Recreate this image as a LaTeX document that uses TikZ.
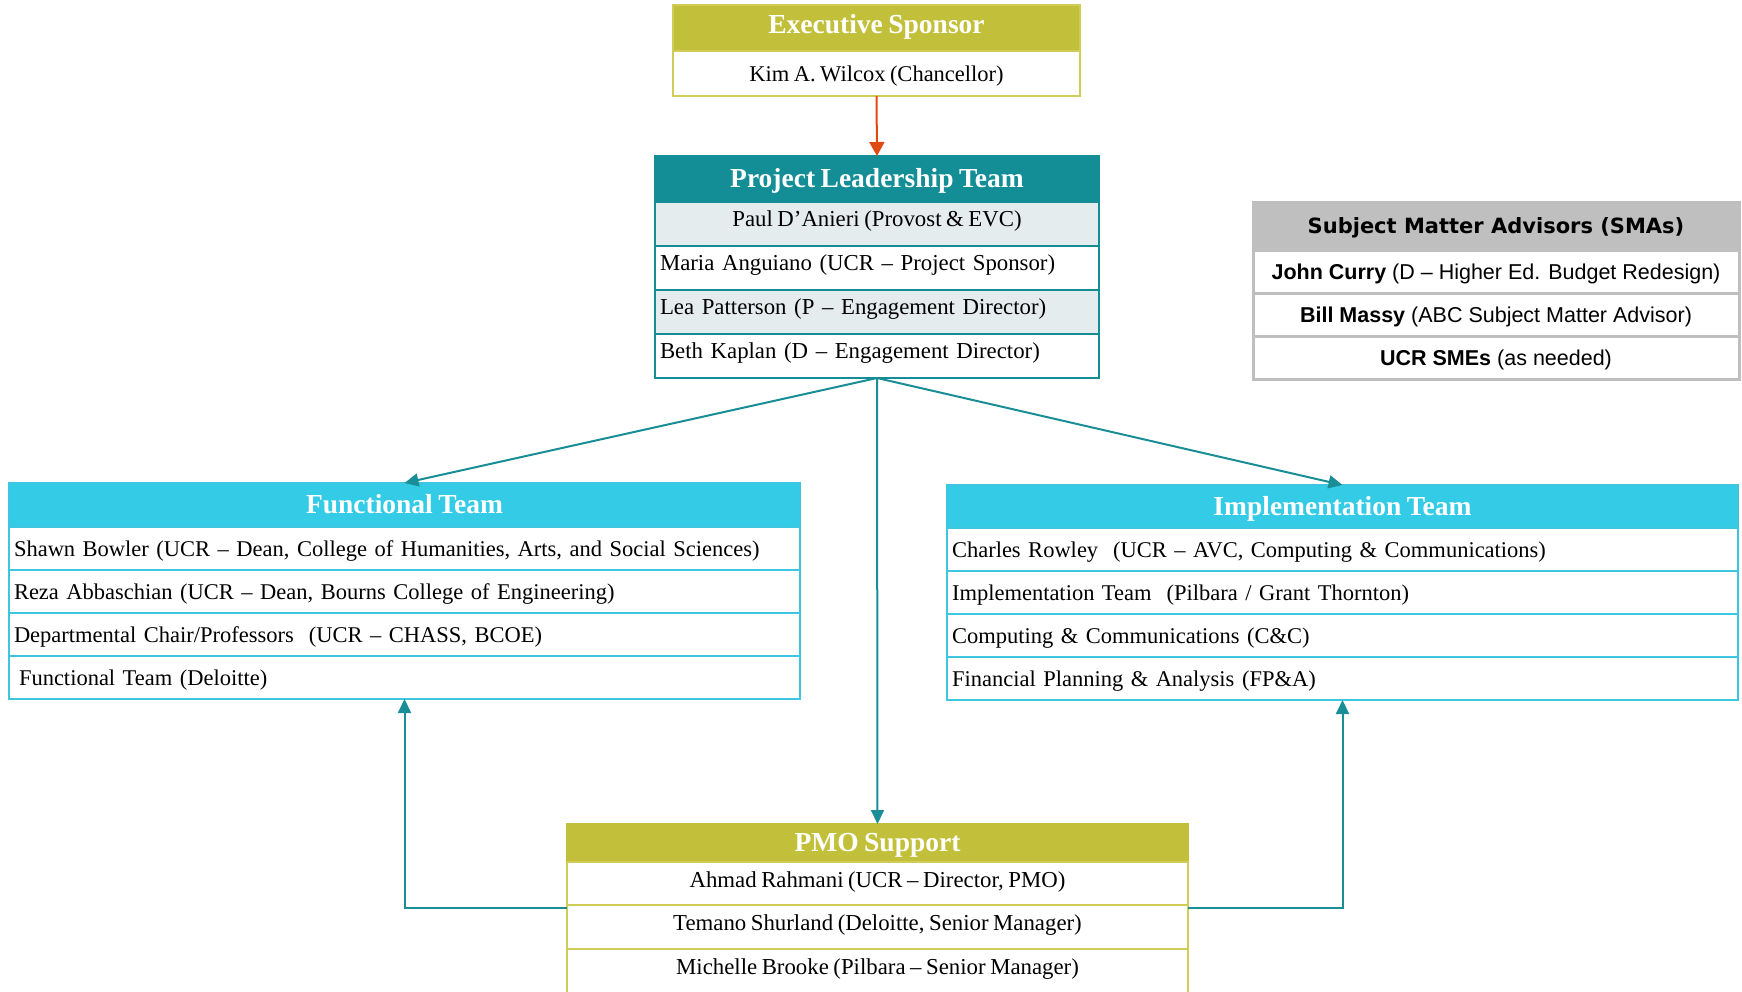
\documentclass[tikz,border=0pt]{standalone}
\usepackage{fontspec}
\setmainfont[WordSpace=0.8]{Liberation Serif}
\newfontfamily\armfam{Liberation Sans}
\newfontfamily\dvfam{DejaVu Sans}
\usetikzlibrary{arrows.meta}
\definecolor{olv}{HTML}{C2C03A}
\definecolor{olvb}{HTML}{CFCD55}
\definecolor{tl}{HTML}{138D96}
\definecolor{lt}{HTML}{E5ECEE}
\definecolor{cy}{HTML}{33CBE6}
\definecolor{cyb}{HTML}{3CC6E0}
\definecolor{gr}{HTML}{BFBFBF}
\definecolor{ao}{HTML}{E04A12}
\definecolor{at}{HTML}{1A8E97}
\newcommand\xhdr{\fontsize{27.5}{30}\selectfont\bfseries}
\newcommand\xrow{\fontsize{22.8}{26}\selectfont}
\newcommand\xrowb{\fontsize{22.5}{26}\selectfont}
\newcommand\xsma{\armfam\fontsize{21.5}{25}\selectfont}
\newcommand\xsmah{\dvfam\fontsize{21}{25}\selectfont\bfseries}
\begin{document}
\begin{tikzpicture}[x=1pt,y=-1pt,
  box/.style={rectangle, draw, anchor=north west, inner xsep=0pt, inner ysep=0pt, outer sep=0pt, line width=2.5pt},
  hdr/.style={box, font=\xhdr, text=white, text height=20.9pt, text depth=3.1pt},
  rc/.style={box, fill=white, font=\xrowb, text height=19.6pt, text depth=4.4pt},
  ru/.style={box, fill=white, font=\xrow, text height=14.6pt, text depth=9.4pt},
  rp/.style={box, fill=white, font=\xrow, text height=15.6pt, text depth=8.4pt},
  lft/.style={align=left, inner xsep=5pt, text width=#1},
  sr/.style={box, fill=white, draw=gr, line width=3pt, font=\xsma, text height=19.7pt, text depth=4.3pt, minimum width=486pt, minimum height=43pt},
  arrO/.style={draw=ao, line width=2pt, -{Triangle[length=14pt,width=15pt]}},
  arrT/.style={draw=at, line width=2pt, -{Triangle[length=14pt,width=13pt]}}
]
\useasboundingbox (0,0) rectangle (1742,991);

% Executive Sponsor
\node[hdr, draw=olvb, fill=olv, minimum width=407pt, minimum height=46pt, text height=17.9pt, text depth=6.1pt] (exh) at (673,5) {Executive Sponsor};
\node[rc, draw=olvb, minimum width=407pt, minimum height=45pt] (exr) at (673,51) {Kim A. Wilcox (Chancellor)};

% Project Leadership Team
\node[hdr, draw=tl, fill=tl, minimum width=444pt, minimum height=46pt] (plh) at (655,156) {Project Leadership Team};
\node[ru, draw=tl, fill=lt, minimum width=444pt, minimum height=44pt] (pl1) at (655,202) {Paul D’Anieri (Provost \& EVC)};
\node[ru, draw=tl, lft=434pt, minimum width=444pt, minimum height=44pt] (pl2) at (655,246) {Maria Anguiano (UCR – Project Sponsor)};
\node[ru, draw=tl, fill=lt, lft=434pt, minimum width=444pt, minimum height=44pt] (pl3) at (655,290) {Lea Patterson (P – Engagement Director)};
\node[ru, draw=tl, lft=434pt, minimum width=444pt, minimum height=44pt] (pl4) at (655,334) {Beth Kaplan (D – Engagement Director)};

% Subject Matter Advisors
\node[box, draw=gr, fill=gr, line width=3pt, font=\xsmah, minimum width=486pt, minimum height=48pt, text height=19.5pt, text depth=4.5pt] (smh) at (1253,202) {Subject Matter Advisors (SMAs)};
\node[sr] (sm1) at (1253,250) {\textbf{John Curry} (D – Higher Ed. Budget Redesign)};
\node[sr] (sm2) at (1253,293) {\textbf{Bill Massy} (ABC Subject Matter Advisor)};
\node[sr] (sm3) at (1253,336) {\textbf{UCR SMEs} (as needed)};

% Functional Team
\node[hdr, draw=cyb, fill=cy, minimum width=791pt, minimum height=44pt] (fth) at (9,483) {Functional Team};
\node[rc, draw=cyb, lft=781pt, minimum width=791pt, minimum height=43pt] (ft1) at (9,527) {Shawn Bowler (UCR – Dean, College of Humanities, Arts, and Social Sciences)};
\node[rc, draw=cyb, lft=781pt, minimum width=791pt, minimum height=43pt] (ft2) at (9,570) {Reza Abbaschian (UCR – Dean, Bourns College of Engineering)};
\node[rc, draw=cyb, lft=781pt, minimum width=791pt, minimum height=43pt] (ft3) at (9,613) {Departmental Chair/Professors\ \ (UCR – CHASS, BCOE)};
\node[rc, draw=cyb, lft=781pt, minimum width=791pt, minimum height=43pt] (ft4) at (9,656) {\hspace*{5pt}Functional Team (Deloitte)};

% Implementation Team
\node[hdr, draw=cyb, fill=cy, minimum width=791pt, minimum height=43pt] (ith) at (947,485) {Implementation Team};
\node[rc, draw=cyb, lft=781pt, minimum width=791pt, minimum height=43pt] (it1) at (947,528) {Charles Rowley\ \ (UCR – AVC, Computing \& Communications)};
\node[rc, draw=cyb, lft=781pt, minimum width=791pt, minimum height=43pt] (it2) at (947,571) {Implementation Team\ \ (Pilbara / Grant Thornton)};
\node[rc, draw=cyb, lft=781pt, minimum width=791pt, minimum height=43pt] (it3) at (947,614) {Computing \& Communications (C\&C)};
\node[rc, draw=cyb, lft=781pt, minimum width=791pt, minimum height=43pt] (it4) at (947,657) {Financial Planning \& Analysis (FP\&A)};

% PMO Support
\node[hdr, draw=olv, fill=olv, minimum width=621pt, minimum height=38pt] (pmh) at (567,824) {PMO Support};
\node[rp, draw=olvb, minimum width=621pt, minimum height=43pt] (pm1) at (567,862) {Ahmad Rahmani (UCR – Director, PMO)};
\node[rp, draw=olvb, minimum width=621pt, minimum height=44pt] (pm2) at (567,905) {Temano Shurland (Deloitte, Senior Manager)};
\node[box, draw=olvb, fill=white, font=\xrow, text height=25pt, text depth=27pt, minimum width=621pt, minimum height=52pt] (pm3) at (567,949) {Michelle Brooke (Pilbara – Senior Manager)};

% Connectors
\draw[arrO] (exr.south) -- (plh.north);
\draw[arrT] (pl4.south) -- (fth.north);
\draw[arrT] (pl4.south) -- (ith.north);
\draw[arrT] (pl4.south) -- (pmh.north);
\draw[arrT] ([yshift=-3pt]pm2.north west) -| (ft4.south);
\draw[arrT] ([yshift=-3pt]pm2.north east) -| (it4.south);
\end{tikzpicture}
\end{document}
